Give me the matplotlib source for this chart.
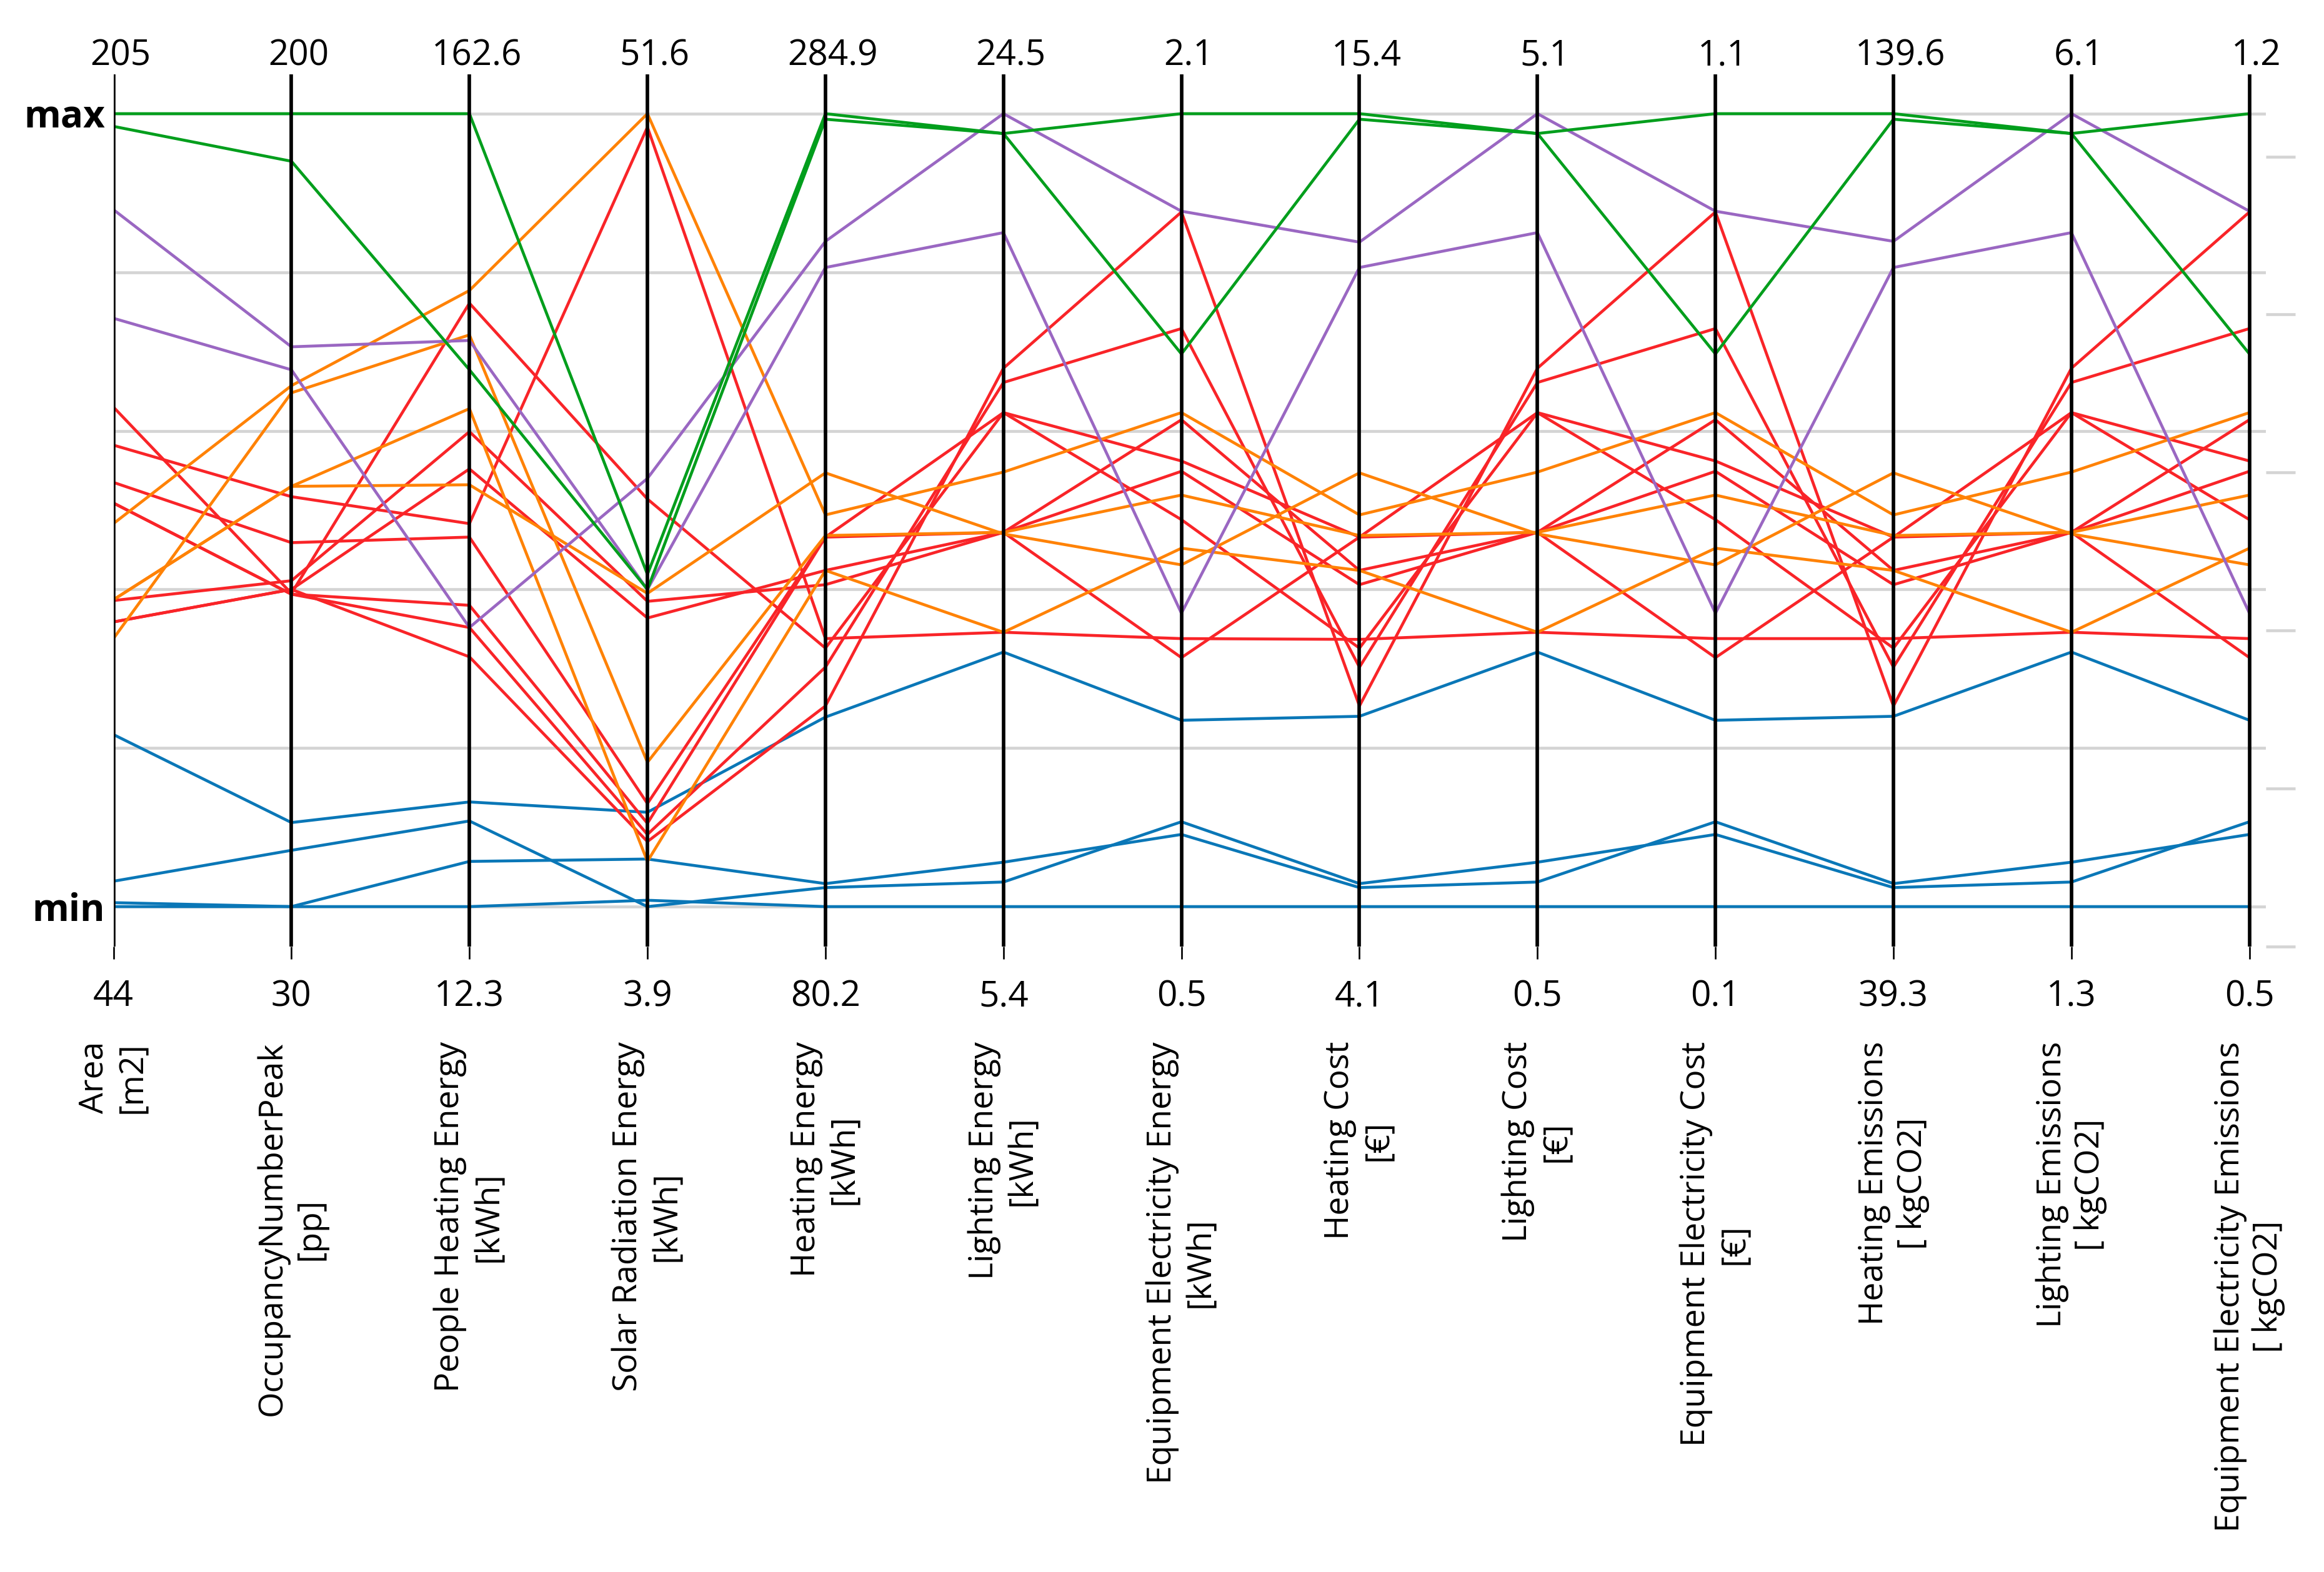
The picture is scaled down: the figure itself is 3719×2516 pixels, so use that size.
import numpy as np
import matplotlib.pyplot as plt

# axis names, max (top) and min (bottom) values
columns = ['Area\n[m2]', 'OccupancyNumberPeak\n[pp]', 'People Heating Energy\n[kWh]',
           'Solar Radiation Energy\n[kWh]', 'Heating Energy\n[kWh]', 'Lighting Energy\n[kWh]',
           'Equipment Electricity Energy\n[kWh]', 'Heating Cost\n[€]', 'Lighting Cost\n[€]',
           'Equipment Electricity Cost\n[€]', 'Heating Emissions\n[ kgCO2]',
           'Lighting Emissions\n[ kgCO2]', 'Equipment Electricity Emissions\n[ kgCO2]']
col_max = ['205', '200', '162.6', '51.6', '284.9', '24.5', '2.1', '15.4', '5.1', '1.1', '139.6', '6.1', '1.2']
col_min = ['44', '30', '12.3', '3.9', '80.2', '5.4', '0.5', '4.1', '0.5', '0.1', '39.3', '1.3', '0.5']

# scaled values (0 = min, 1 = max) for each axis
green = [
    [1.0, 1.0, 1.0, 0.419, 1.0, 0.975, 1.0, 1.0, 0.975, 1.0, 1.0, 0.975, 1.0],
    [0.984, 0.940, 0.677, 0.400, 0.993, 0.975, 0.697, 0.993, 0.975, 0.697, 0.993, 0.975, 0.697],
]
purple = [
    [0.879, 0.706, 0.714, 0.400, 0.806, 0.850, 0.370, 0.806, 0.850, 0.370, 0.806, 0.850, 0.370],
    [0.742, 0.677, 0.352, 0.540, 0.839, 1.0, 0.877, 0.838, 1.0, 0.877, 0.839, 1.0, 0.877],
]
red = [
    [0.582, 0.517, 0.483, 0.983, 0.338, 0.346, 0.338, 0.337, 0.346, 0.338, 0.338, 0.346, 0.338],
    [0.630, 0.395, 0.761, 0.514, 0.326, 0.623, 0.488, 0.326, 0.623, 0.488, 0.326, 0.623, 0.488],
    [0.386, 0.411, 0.599, 0.385, 0.406, 0.472, 0.549, 0.406, 0.472, 0.549, 0.406, 0.472, 0.549],
    [0.359, 0.400, 0.552, 0.364, 0.424, 0.472, 0.614, 0.424, 0.472, 0.614, 0.424, 0.472, 0.614],
    [0.535, 0.459, 0.466, 0.130, 0.466, 0.472, 0.314, 0.466, 0.472, 0.314, 0.466, 0.472, 0.314],
    [0.509, 0.394, 0.380, 0.105, 0.466, 0.623, 0.562, 0.466, 0.623, 0.562, 0.466, 0.623, 0.562],
    [0.509, 0.394, 0.352, 0.091, 0.302, 0.661, 0.729, 0.302, 0.661, 0.729, 0.302, 0.661, 0.729],
    [0.359, 0.400, 0.315, 0.082, 0.253, 0.679, 0.876, 0.253, 0.679, 0.876, 0.253, 0.679, 0.876],
]
orange = [
    [0.483, 0.657, 0.777, 1.0, 0.494, 0.548, 0.623, 0.494, 0.548, 0.623, 0.494, 0.548, 0.623],
    [0.387, 0.530, 0.532, 0.395, 0.547, 0.470, 0.431, 0.547, 0.470, 0.431, 0.547, 0.470, 0.431],
    [0.338, 0.648, 0.721, 0.182, 0.468, 0.472, 0.519, 0.468, 0.472, 0.519, 0.468, 0.472, 0.519],
    [0.387, 0.530, 0.628, 0.057, 0.424, 0.346, 0.452, 0.424, 0.346, 0.452, 0.424, 0.346, 0.452],
]
blue = [
    [0.217, 0.106, 0.132, 0.119, 0.239, 0.321, 0.235, 0.240, 0.321, 0.235, 0.240, 0.321, 0.235],
    [0.032, 0.071, 0.108, 0.0, 0.024, 0.031, 0.107, 0.029, 0.056, 0.091, 0.024, 0.031, 0.107],
    [0.005, 0.0, 0.057, 0.060, 0.029, 0.056, 0.091, 0.024, 0.031, 0.107, 0.029, 0.056, 0.091],
    [0.0, 0.0, 0.0, 0.008, 0.0, 0.0, 0.0, 0.0, 0.0, 0.0, 0.0, 0.0, 0.0],
]

groups = [(blue, '#0a77b7'), (red, '#f92428'), (orange, '#ff8205'),
          (purple, '#9a67c2'), (green, '#009e1c')]

plt.rcParams['font.family'] = ['Open Sans', 'DejaVu Sans']

W, H = 3719, 2516
fig = plt.figure(figsize=(W / 240, H / 240), dpi=240)
ax = fig.add_axes([181.5 / W, 1 - 1515 / H, (3626 - 181.5) / W, (1515 - 119) / H])

x = np.arange(len(columns))
for lines, col in groups:
    for vals in lines:
        ax.plot(x, vals, color=col, lw=1.4, zorder=2, solid_capstyle='round')

for i in x:
    ax.axvline(i, color='black', lw=1.7, zorder=3)
    ax.text(i + 0.04, 1.0607, col_max[i], ha='center', va='baseline', fontsize=17)
    ax.text(i, -0.1253, col_min[i], ha='center', va='baseline', fontsize=17)
    ax.text(i, -0.1702, columns[i], rotation=90, ha='center', va='top',
            multialignment='center', fontsize=16)

ax.set_xlim(0, (3626 - 181.5) / 284.85)
ax.set_ylim(-0.0504, 1.0496)
ax.set_xticks(x)
ax.set_xticklabels([])
ax.tick_params(axis='x', direction='out', length=6, width=0.8, color='black')

ax.set_yticks(np.linspace(0, 1, 6))
ax.set_yticklabels(['min', '', '', '', '', 'max'], fontsize=18, fontweight='bold')
ax.tick_params(axis='y', length=0, pad=4)
ax.yaxis.grid(True, color='#d4d4d4', lw=1.4)
ax.set_axisbelow(True)
for s in ax.spines.values():
    s.set_visible(False)

# short grey ticks on the right side
ax2 = ax.twinx()
ax2.set_ylim(ax.get_ylim())
ax2.set_yticks(0.9456 - 0.2 * np.arange(6))
ax2.tick_params(axis='y', direction='out', length=14, width=1.4, color='#d4d4d4', labelright=False)
for s in ax2.spines.values():
    s.set_visible(False)

fig.savefig('out.png', dpi=240)
